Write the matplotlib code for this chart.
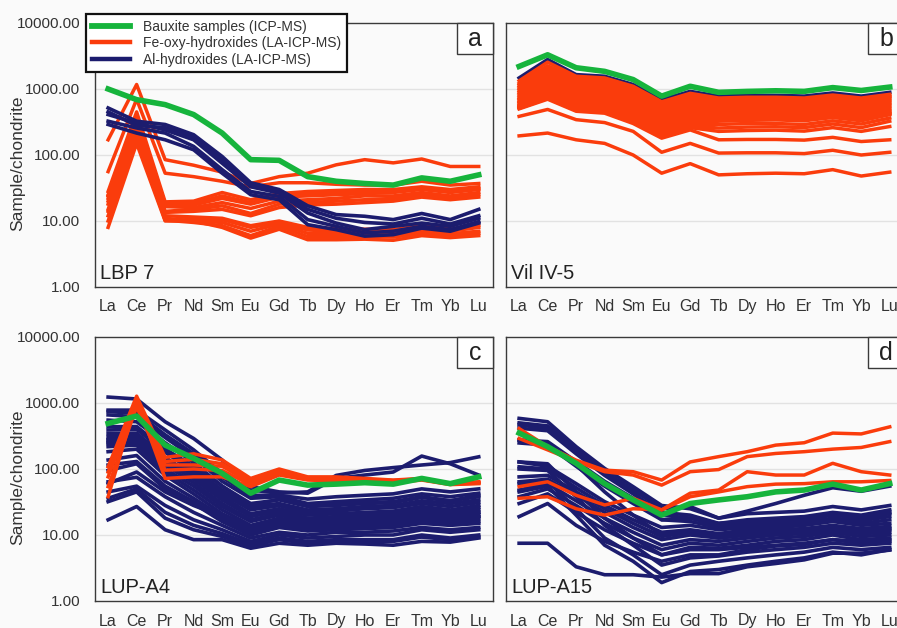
import matplotlib
matplotlib.use("Agg")
import matplotlib.pyplot as plt
from matplotlib.patches import Rectangle
from matplotlib.lines import Line2D

plt.rcParams['font.family'] = ['Liberation Sans', 'DejaVu Sans']

elements = ["La", "Ce", "Pr", "Nd", "Sm", "Eu", "Gd", "Tb", "Dy", "Ho", "Er", "Tm", "Yb", "Lu"]
ytick_vals = [1, 10, 100, 1000, 10000]
ytick_labels = ["1.00", "10.00", "100.00", "1000.00", "10000.00"]
panel_letters = ["a", "b", "c", "d"]
sample_names = ["LBP 7", "Vil IV-5", "LUP-A4", "LUP-A15"]
legend_labels = ["Bauxite samples (ICP-MS)", "Fe-oxy-hydroxides (LA-ICP-MS)", "Al-hydroxides (LA-ICP-MS)"]
y_axis_label = "Sample/chondrite"

# ---------------- panel a: LBP 7 ----------------
a_green = [1000, 690, 580, 410, 215, 85, 83, 47, 40, 37, 35, 45, 40, 50]
a_orange = [
    [170, 1170, 85, 70, 55, 37, 47, 53, 71, 85, 76, 87, 67, 67],
    [56, 700, 53, 47, 40, 33, 38, 38, 36, 35, 35, 40, 35, 37],
    [28, 450, 19.5, 20, 27, 21, 26, 28, 29, 30, 30, 33, 30, 33],
    [24, 400, 18, 18.5, 24, 19, 24, 26, 27, 28, 28, 31, 28, 31],
    [22, 380, 17, 17.5, 22, 18, 23, 24, 25, 26, 27, 30, 27, 30],
    [18, 320, 16.5, 16, 19, 15.5, 20, 21, 22, 24, 24, 27, 24, 27],
    [15, 260, 14, 15, 17, 13, 18, 19, 20, 21, 22, 25, 22, 25],
    [12, 200, 13.5, 14, 15, 12, 16, 17.5, 18, 19, 20, 23, 21, 23],
    [25, 300, 10.3, 10.5, 10.5, 8, 9.5, 7.3, 7, 7, 6.8, 7.8, 7, 8],
    [8, 150, 10, 10, 9.5, 7, 9, 6.5, 6.5, 6.3, 6.2, 7, 6.4, 7],
    [10, 180, 10.3, 9.5, 8.5, 6, 8.3, 5.8, 5.8, 5.8, 5.7, 6.5, 6, 6.5],
    [14, 230, 11, 10, 8, 5.5, 7.5, 5.2, 5.2, 5.3, 5.1, 6, 5.6, 6],
    [20, 280, 12, 11.5, 11, 8.5, 10, 8, 7.6, 7.5, 7.4, 8.5, 7.6, 8.6],
]
a_navy = [
    [516, 325, 290, 203, 95, 38, 30, 17, 12.5, 11.8, 10.5, 13, 10.5, 15],
    [450, 280, 260, 185, 85, 35, 28, 15, 11, 9.5, 9, 11, 9, 12],
    [410, 305, 240, 170, 75, 33, 26.5, 13.2, 9.3, 7.4, 8.3, 9.3, 8.3, 11],
    [325, 257, 215, 135, 60, 28, 23.6, 10.5, 8.3, 6.6, 7, 8.3, 7.4, 9.8],
    [290, 215, 170, 120, 53, 25, 21, 8.8, 7.4, 5.9, 6.2, 7.8, 7, 9.3],
]

# ---------------- panel b: Vil IV-5 ----------------
b_green = [2200, 3300, 2100, 1850, 1390, 780, 1100, 890, 920, 940, 920, 1050, 950, 1070]
b_navy = [
    [1470, 2800, 1650, 1560, 1170, 690, 920, 780, 800, 800, 780, 870, 780, 890],
]
b_orange = [
    [1330, 2550, 1560, 1470, 1100, 640, 860, 730, 750, 750, 730, 810, 730, 830],
    [1220, 2250, 1470, 1380, 1030, 600, 820, 690, 710, 710, 690, 770, 690, 790],
    [1150, 2050, 1400, 1320, 980, 570, 790, 660, 680, 680, 660, 740, 660, 770],
    [1080, 1900, 1320, 1240, 920, 530, 740, 620, 640, 640, 620, 700, 625, 730],
    [1020, 1800, 1250, 1170, 860, 500, 700, 590, 610, 610, 590, 665, 595, 700],
    [960, 1700, 1170, 1100, 800, 470, 660, 560, 575, 575, 560, 630, 565, 665],
    [900, 1600, 1100, 1030, 750, 440, 620, 530, 545, 545, 530, 600, 535, 630],
    [850, 1500, 1030, 970, 700, 410, 580, 500, 515, 517, 500, 570, 505, 600],
    [800, 1400, 970, 910, 660, 380, 540, 470, 485, 490, 475, 540, 480, 570],
    [750, 1300, 910, 850, 620, 355, 505, 445, 460, 465, 450, 510, 455, 540],
    [710, 1200, 850, 800, 580, 330, 470, 420, 435, 440, 425, 485, 430, 510],
    [675, 1120, 795, 750, 540, 305, 440, 400, 412, 417, 402, 460, 407, 485],
    [640, 1050, 740, 700, 500, 285, 410, 380, 390, 395, 380, 435, 385, 460],
    [610, 970, 690, 650, 465, 265, 380, 365, 375, 378, 365, 417, 370, 445],
    [580, 900, 640, 600, 430, 245, 350, 350, 360, 362, 350, 400, 355, 430],
    [560, 840, 590, 555, 395, 235, 325, 337, 347, 350, 340, 385, 342, 420],
    [545, 780, 545, 516, 364, 230, 305, 325, 335, 340, 330, 370, 330, 408],
    [530, 760, 520, 490, 350, 215, 290, 290, 300, 300, 290, 330, 295, 363],
    [520, 740, 500, 470, 335, 203, 275, 256, 265, 268, 260, 295, 260, 325],
    [510, 720, 480, 450, 320, 190, 260, 228, 235, 238, 230, 260, 228, 270],
    [500, 700, 460, 430, 300, 180, 240, 170, 172, 172, 168, 185, 160, 170],
    [385, 490, 343, 310, 228, 110, 150, 107, 108, 108, 105, 118, 100, 110],
    [195, 215, 170, 150, 100, 53, 74, 50, 52, 53, 52, 60, 48, 55],
]

# ---------------- panel c: LUP-A4 ----------------
c_green = [490, 635, 230, 145, 86, 43, 68, 57, 59, 62, 59, 72, 60, 76]
c_orange = [
    [108, 1270, 150, 170, 137, 72, 100, 76, 76, 72, 68, 72, 60, 64],
    [38, 1100, 72, 76, 76, 54, 81, 68, 66, 64, 62, 68, 58, 60],
    [76, 1000, 115, 115, 110, 62, 90, 72, 70, 68, 66, 70, 60, 62],
    [54, 870, 96, 100, 95, 58, 86, 70, 68, 66, 64, 69, 59, 61],
    [90, 1150, 130, 140, 120, 66, 95, 74, 73, 70, 67, 71, 60, 63],
]
c_navy = [
    [1230, 1150, 520, 290, 137, 54, 45, 43, 72, 81, 90, 157, 120, 81],
    [780, 780, 390, 195, 86, 48, 43, 45, 80, 95, 105, 115, 125, 153],
    [740, 700, 330, 170, 75, 40, 40, 35, 38, 40, 42, 50, 45, 50],
    [660, 620, 300, 150, 65, 36, 38, 30, 32, 34, 36, 42, 38, 43],
    [550, 520, 250, 125, 55, 30, 34, 27, 28, 30, 31, 37, 33, 38],
    [437, 440, 200, 100, 48, 27, 30, 24, 25, 27, 28, 33, 30, 34],
    [390, 400, 180, 90, 42, 24, 28, 22, 23, 25, 26, 30, 27, 31],
    [345, 350, 150, 78, 38, 21, 25, 20, 21, 22, 23, 27, 24, 28],
    [310, 320, 130, 70, 34, 19, 23, 18, 19, 20, 21, 25, 22, 26],
    [280, 300, 200, 110, 55, 28, 35, 29, 30, 31, 32, 38, 33, 40],
    [275, 280, 115, 62, 30, 17, 21, 17, 18, 19, 20, 23, 21, 24],
    [250, 260, 140, 85, 45, 25, 28, 22, 21, 20, 20, 22, 20, 22],
    [245, 250, 100, 55, 27, 16, 20, 16, 17, 18, 18.5, 21, 19.5, 22],
    [218, 230, 90, 48, 24, 14, 18, 15, 16, 17, 17, 20, 18, 20],
    [183, 200, 80, 42, 21, 13, 16, 14, 15, 15.5, 16, 18.5, 17, 19],
    [137, 160, 65, 36, 19, 12, 15, 13, 14, 14.5, 15, 17, 16, 17.5],
    [115, 130, 55, 32, 17, 11, 14, 12, 13, 13.5, 14, 16, 15, 16],
    [95, 120, 50, 30, 16, 10, 13, 11.5, 12, 12.5, 13, 15, 14, 15],
    [64, 75, 38, 22, 14, 9, 11, 10, 11, 11, 11.5, 13, 12, 13],
    [60, 90, 45, 28, 19, 13, 17, 14, 15, 15, 16, 19, 17, 19],
    [45, 55, 28, 17, 12, 8, 10, 9, 9.5, 10, 10, 12, 11, 12],
    [36, 50, 22, 14, 10.5, 7.3, 9, 8, 8.5, 8.5, 8.5, 10, 9, 10],
    [32, 45, 18, 12, 9.5, 6.8, 8.5, 7.5, 8, 8, 8, 9.3, 8.5, 9.3],
    [17, 27, 12, 8.5, 8.5, 6.3, 7.5, 7, 7.5, 7.3, 7, 8, 7.8, 9],
]

# ---------------- panel d: LUP-A15 ----------------
d_green = [350, 218, 122, 60, 34, 20, 30, 34, 38, 45, 48, 59, 48, 60]
d_orange = [
    [410, 218, 136, 96, 91, 68, 128, 154, 183, 230, 250, 350, 340, 435],
    [290, 195, 130, 91, 81, 57, 91, 98, 154, 172, 183, 200, 212, 260],
    [54, 64, 40, 28.5, 36, 24, 43, 48, 91, 81, 81, 122, 91, 81],
    [36, 38, 25, 20, 25, 24, 38, 45, 54, 59, 60, 64, 64, 67],
]
d_navy = [
    [585, 520, 218, 102, 54, 28, 25, 18, 21, 22, 23, 27, 24, 28],
    [465, 410, 190, 90, 48, 25, 27, 18, 23, 30, 40, 52, 46, 55],
    [500, 450, 200, 90, 45, 17, 18, 15, 17, 18, 19, 22, 20, 24],
    [415, 380, 170, 80, 42, 22, 20, 15, 16, 17, 18, 21, 19, 22],
    [275, 260, 130, 65, 36, 20, 18, 14, 15, 16, 17, 20, 18, 21],
    [275, 250, 115, 45, 20, 10, 11, 9, 10, 10.5, 11, 12.5, 11.5, 12.5],
    [248, 230, 110, 55, 30, 17, 16, 13, 14, 15, 15.5, 18, 16.5, 19],
    [128, 110, 60, 32, 20, 13, 14, 12, 13, 14, 14.5, 17, 15, 17],
    [128, 120, 45, 18, 9, 5, 6, 6, 6.5, 7, 7.5, 8.5, 8, 8.5],
    [108, 100, 52, 28, 17, 11, 12, 10.5, 12, 13, 14, 16, 14, 15],
    [100, 95, 38, 14, 7, 3.5, 4.5, 4.8, 5.5, 6, 6.5, 7.5, 7, 7.5],
    [76, 80, 45, 25, 15, 9.5, 11, 10, 11, 12, 12.5, 14, 12.5, 13.5],
    [64, 70, 40, 22, 13, 8.5, 10, 9, 10, 11, 11.5, 13, 11.5, 12],
    [60, 65, 25, 9, 5, 2.5, 3.5, 4, 4.5, 5, 5.5, 6.5, 6, 6.5],
    [48, 60, 33, 18, 11, 7, 8.5, 8, 9, 10, 10.5, 12, 10.5, 11],
    [45, 55, 20, 7, 4, 1.9, 2.8, 3, 3.5, 4, 4.5, 5.5, 5, 6],
    [38, 50, 28, 15, 9, 6, 7.5, 7, 8, 9, 9.5, 11, 9.5, 10],
    [30, 42, 22, 12, 7.5, 5, 6.5, 6.3, 7, 8, 8.5, 10, 8.5, 9],
    [19, 30, 14, 8, 5.5, 4, 5, 5, 6, 6.8, 7.2, 8.5, 7.5, 8],
    [7.5, 7.5, 3.3, 2.5, 2.5, 2.3, 2.6, 2.6, 3.3, 3.7, 4.2, 5.3, 5.3, 5.9],
]

GREEN = "#16b43c"
ORANGE = "#fa3c0c"
NAVY = "#1c1c6e"
BG = "#fafafa"
FRAME = "#3a3a3a"
TXT = "#333333"

panels = [
    (a_green, a_orange, a_navy, "navy_top"),
    (b_green, b_orange, b_navy, "orange_top"),
    (c_green, c_orange, c_navy, "orange_top"),
    (d_green, d_orange, d_navy, "orange_top"),
]

W, H = 897, 628
fig = plt.figure(figsize=(W / 100, H / 100), dpi=100, facecolor=BG)

ax_w = 398 / W
ax_h = 264 / H
positions = [
    (95 / W, (H - 287) / H),
    (506 / W, (H - 287) / H),
    (95 / W, (H - 601) / H),
    (506 / W, (H - 601) / H),
]

xs = list(range(len(elements)))
for i, (pos, (g, o, n, order)) in enumerate(zip(positions, panels)):
    ax = fig.add_axes([pos[0], pos[1], ax_w, ax_h])
    ax.set_facecolor(BG)
    ax.set_yscale("log")
    ax.set_ylim(1, 10000)
    ax.set_xlim(-0.46, 13.5)
    for v in [10, 100, 1000]:
        ax.axhline(v, color="#e2e2e2", lw=1.0, zorder=0.5)
    z_or, z_nv = (2, 3) if order == "navy_top" else (3, 2)
    for row in o:
        ax.plot(xs, row, color=ORANGE, lw=2.5, zorder=z_or, solid_joinstyle="round")
    for row in n:
        ax.plot(xs, row, color=NAVY, lw=2.6, zorder=z_nv, solid_joinstyle="round")
    ax.plot(xs, g, color=GREEN, lw=4.0, zorder=4, solid_joinstyle="round")

    ax.set_xticks(xs)
    ax.set_xticklabels(elements, fontsize=11.5, color=TXT)
    ax.set_yticks(ytick_vals)
    ax.minorticks_off()
    if i in (0, 2):
        ax.set_yticklabels(ytick_labels, fontsize=11, color=TXT)
        fig.text(18 / W, (pos[1] + ax_h / 2) - 8 / H, y_axis_label, rotation=90,
                 ha="center", va="center", fontsize=12.5, color=TXT)
    else:
        ax.set_yticklabels([])
    ax.tick_params(axis="both", length=0)
    ax.tick_params(axis="x", pad=9)
    ax.tick_params(axis="y", pad=10.5)
    for s in ax.spines.values():
        s.set_color(FRAME)
        s.set_linewidth(1.0)
        s.set_zorder(6)

    bw, bh = 36 / 398, 31 / 264
    ax.add_patch(Rectangle((1 - bw, 1 - bh), bw, bh, transform=ax.transAxes,
                           facecolor="white", edgecolor=FRAME, lw=1.0, zorder=7, clip_on=False))
    ax.text(1 - bw / 2, 1 - bh / 2, panel_letters[i], transform=ax.transAxes,
            ha="center", va="center", fontsize=18, color="#222222", zorder=8)
    ax.text(0.013, 0.03, sample_names[i], transform=ax.transAxes, ha="left",
            va="baseline", fontsize=14.5, color="#222222", zorder=8)

handles = [Line2D([], [], color=GREEN, lw=4.2),
           Line2D([], [], color=ORANGE, lw=3.2),
           Line2D([], [], color=NAVY, lw=3.2)]
leg = fig.legend(handles, legend_labels, loc="upper left",
                 bbox_to_anchor=(86 / W, (H - 14) / H), fontsize=10,
                 frameon=True, fancybox=False, handlelength=2.8, handletextpad=0.9,
                 borderpad=0.4, labelspacing=0.18, borderaxespad=0)
leg.get_frame().set_edgecolor("#111111")
leg.get_frame().set_linewidth(1.6)
leg.get_frame().set_facecolor("white")
leg.get_frame().set_alpha(1)
leg.set_zorder(20)
for t in leg.get_texts():
    t.set_color(TXT)

fig.savefig("out.png", dpi=100, facecolor=BG)
